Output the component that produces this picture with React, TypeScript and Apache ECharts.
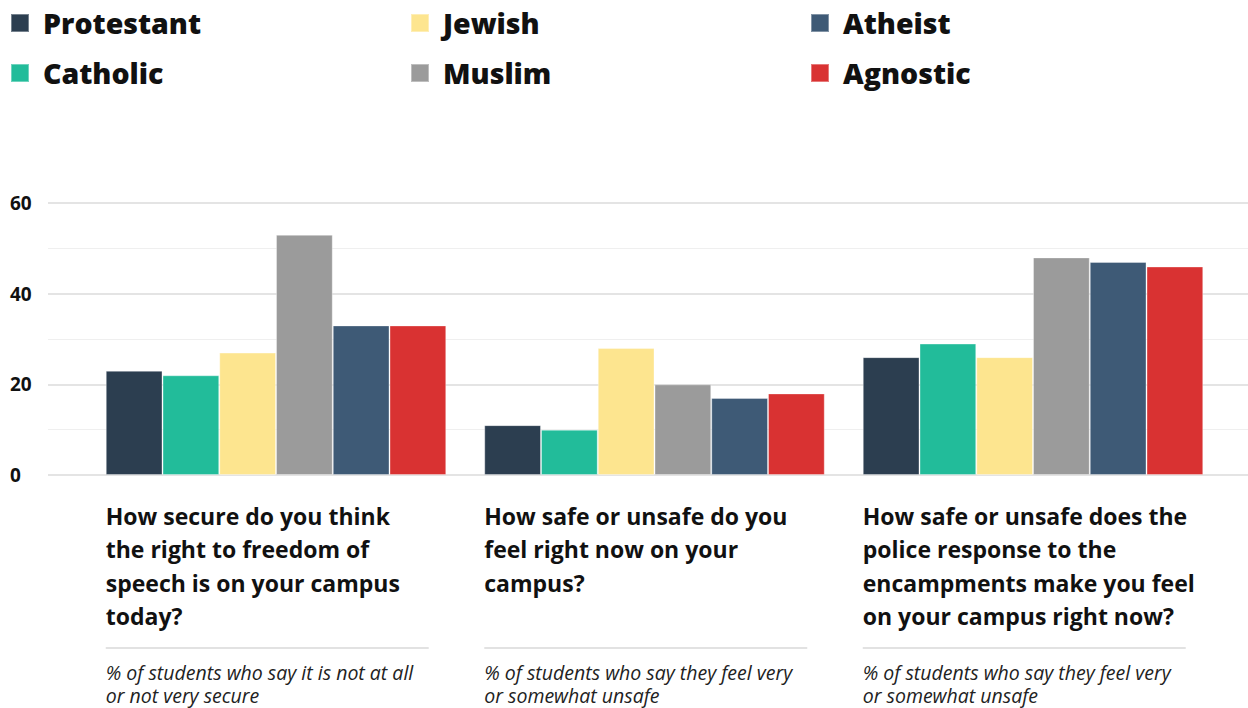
import React, { useEffect, useRef } from "react";
import * as echarts from "echarts";

const categories = ["Free speech secure", "Feel safe on campus", "Police response"];
const seriesNames = ["Protestant", "Catholic", "Jewish", "Muslim", "Atheist", "Agnostic"];
const protestant = [23, 11, 26];
const catholic = [22, 10, 29];
const jewish = [27, 28, 26];
const muslim = [53, 20, 48];
const atheist = [33, 17, 47];
const agnostic = [33, 18, 46];
const colors = ["#2c3e50", "#22bc9a", "#fde58f", "#9b9b9b", "#3e5a76", "#d93232"];
const yTicks = [0, 20, 40, 60];
const questions = [
  "How secure do you think\nthe right to freedom of\nspeech is on your campus\ntoday?",
  "How safe or unsafe do you\nfeel right now on your\ncampus?",
  "How safe or unsafe does the\npolice response to the\nencampments make you feel\non your campus right now?",
];
const notes = [
  ["% of students who say it is not at all", "or not very secure"],
  ["% of students who say they feel very", "or somewhat unsafe"],
  ["% of students who say they feel very", "or somewhat unsafe"],
];

const values = [protestant, catholic, jewish, muslim, atheist, agnostic];
const FONT = "'Open Sans', Lato, sans-serif";

export default function App() {
  const ref = useRef<HTMLDivElement>(null);
  useEffect(() => {
    if (!ref.current) return;
    const chart = echarts.init(ref.current, undefined, { renderer: "svg" });
    const gridTop = 203;
    const gridH = 272;
    const barLeft = 86.75;
    const barWidthTotal = 1135.5;
    const catW = barWidthTotal / categories.length;
    const bw = 56.75;
    const groupStarts = categories.map((_, i) => barLeft + catW * i + catW / 2 - 3 * bw);

    const legendCol = (names: string[], left: number) => ({
      show: true,
      orient: "vertical",
      left,
      top: 8,
      padding: 0,
      icon: "rect",
      itemWidth: 18,
      itemHeight: 18,
      itemGap: 20,
      selectedMode: false,
      data: names,
      textStyle: {
        fontFamily: FONT,
        fontWeight: 800,
        fontSize: 28.5,
        color: "#111",
        lineHeight: 30,
        padding: [0, 0, 0, 9],
      },
    });

    const graphics: any[] = [];
    questions.forEach((q, i) => {
      const x = groupStarts[i];
      graphics.push({
        type: "text",
        left: x,
        top: 499,
        style: {
          text: q,
          font: `bold 23px ${FONT}`,
          fill: "#111",
          lineHeight: 33.5,
        },
      });
      graphics.push({
        type: "line",
        shape: { x1: x, y1: 648, x2: x + 323, y2: 648 },
        style: { stroke: "#d9d9d9", lineWidth: 1.5 },
      });
      notes[i].forEach((line, j) => {
        graphics.push({
          type: "text",
          x,
          y: 672.5 + j * 22.5,
          style: {
            text: line,
            font: `italic 400 19.5px ${FONT}`,
            fill: "#222",
            textVerticalAlign: "middle",
            verticalAlign: "middle",
          },
        });
      });
    });

    chart.setOption({
      animation: false,
      legend: [
        legendCol([seriesNames[0], seriesNames[1]], 10),
        legendCol([seriesNames[2], seriesNames[3]], 410),
        legendCol([seriesNames[4], seriesNames[5]], 810),
      ],
      grid: [
        { left: 48, right: 0, top: gridTop, height: gridH },
        { left: barLeft, width: barWidthTotal, top: gridTop, height: gridH },
      ],
      xAxis: [
        { type: "value", gridIndex: 0, show: false, min: 0, max: 1 },
        { type: "category", gridIndex: 1, data: categories, show: false },
      ],
      yAxis: [
        {
          type: "value",
          gridIndex: 0,
          position: "left",
          min: 0,
          max: 60,
          interval: 10,
          axisLine: { show: false },
          axisTick: { show: false },
          axisLabel: { show: false },
          splitLine: { show: true, lineStyle: { color: "#efefef", width: 1 } },
          z: 0,
        },
        {
          type: "value",
          gridIndex: 0,
          position: "left",
          offset: 0,
          min: 0,
          max: 60,
          interval: 20,
          axisLine: { show: false },
          axisTick: { show: false },
          axisLabel: {
            show: true,
            align: "left",
            margin: 38,
            fontFamily: FONT,
            fontWeight: "bold",
            fontSize: 19,
            color: "#111",
            formatter: (v: number) => (yTicks.includes(v) ? String(v) : ""),
          },
          splitLine: { show: true, lineStyle: { color: "#e4e4e4", width: 2 } },
          z: 1,
        },
        {
          type: "value",
          gridIndex: 1,
          min: 0,
          max: 60,
          show: false,
          splitLine: { show: false },
        },
      ],
      series: seriesNames.map((name, i) => ({
        name,
        type: "bar",
        xAxisIndex: 1,
        yAxisIndex: 2,
        data: values[i],
        barWidth: bw,
        barGap: "0%",
        z: 5,
        itemStyle: {
          color: colors[i],
          borderColor: "rgba(255,255,255,0.35)",
          borderWidth: 1,
        },
      })),
      graphic: graphics,
    });
    return () => chart.dispose();
  }, []);
  return (
    <div
      ref={ref}
      style={{ position: "fixed", left: 0, top: 0, width: 1248, height: 708, background: "#fff" }}
    />
  );
}
